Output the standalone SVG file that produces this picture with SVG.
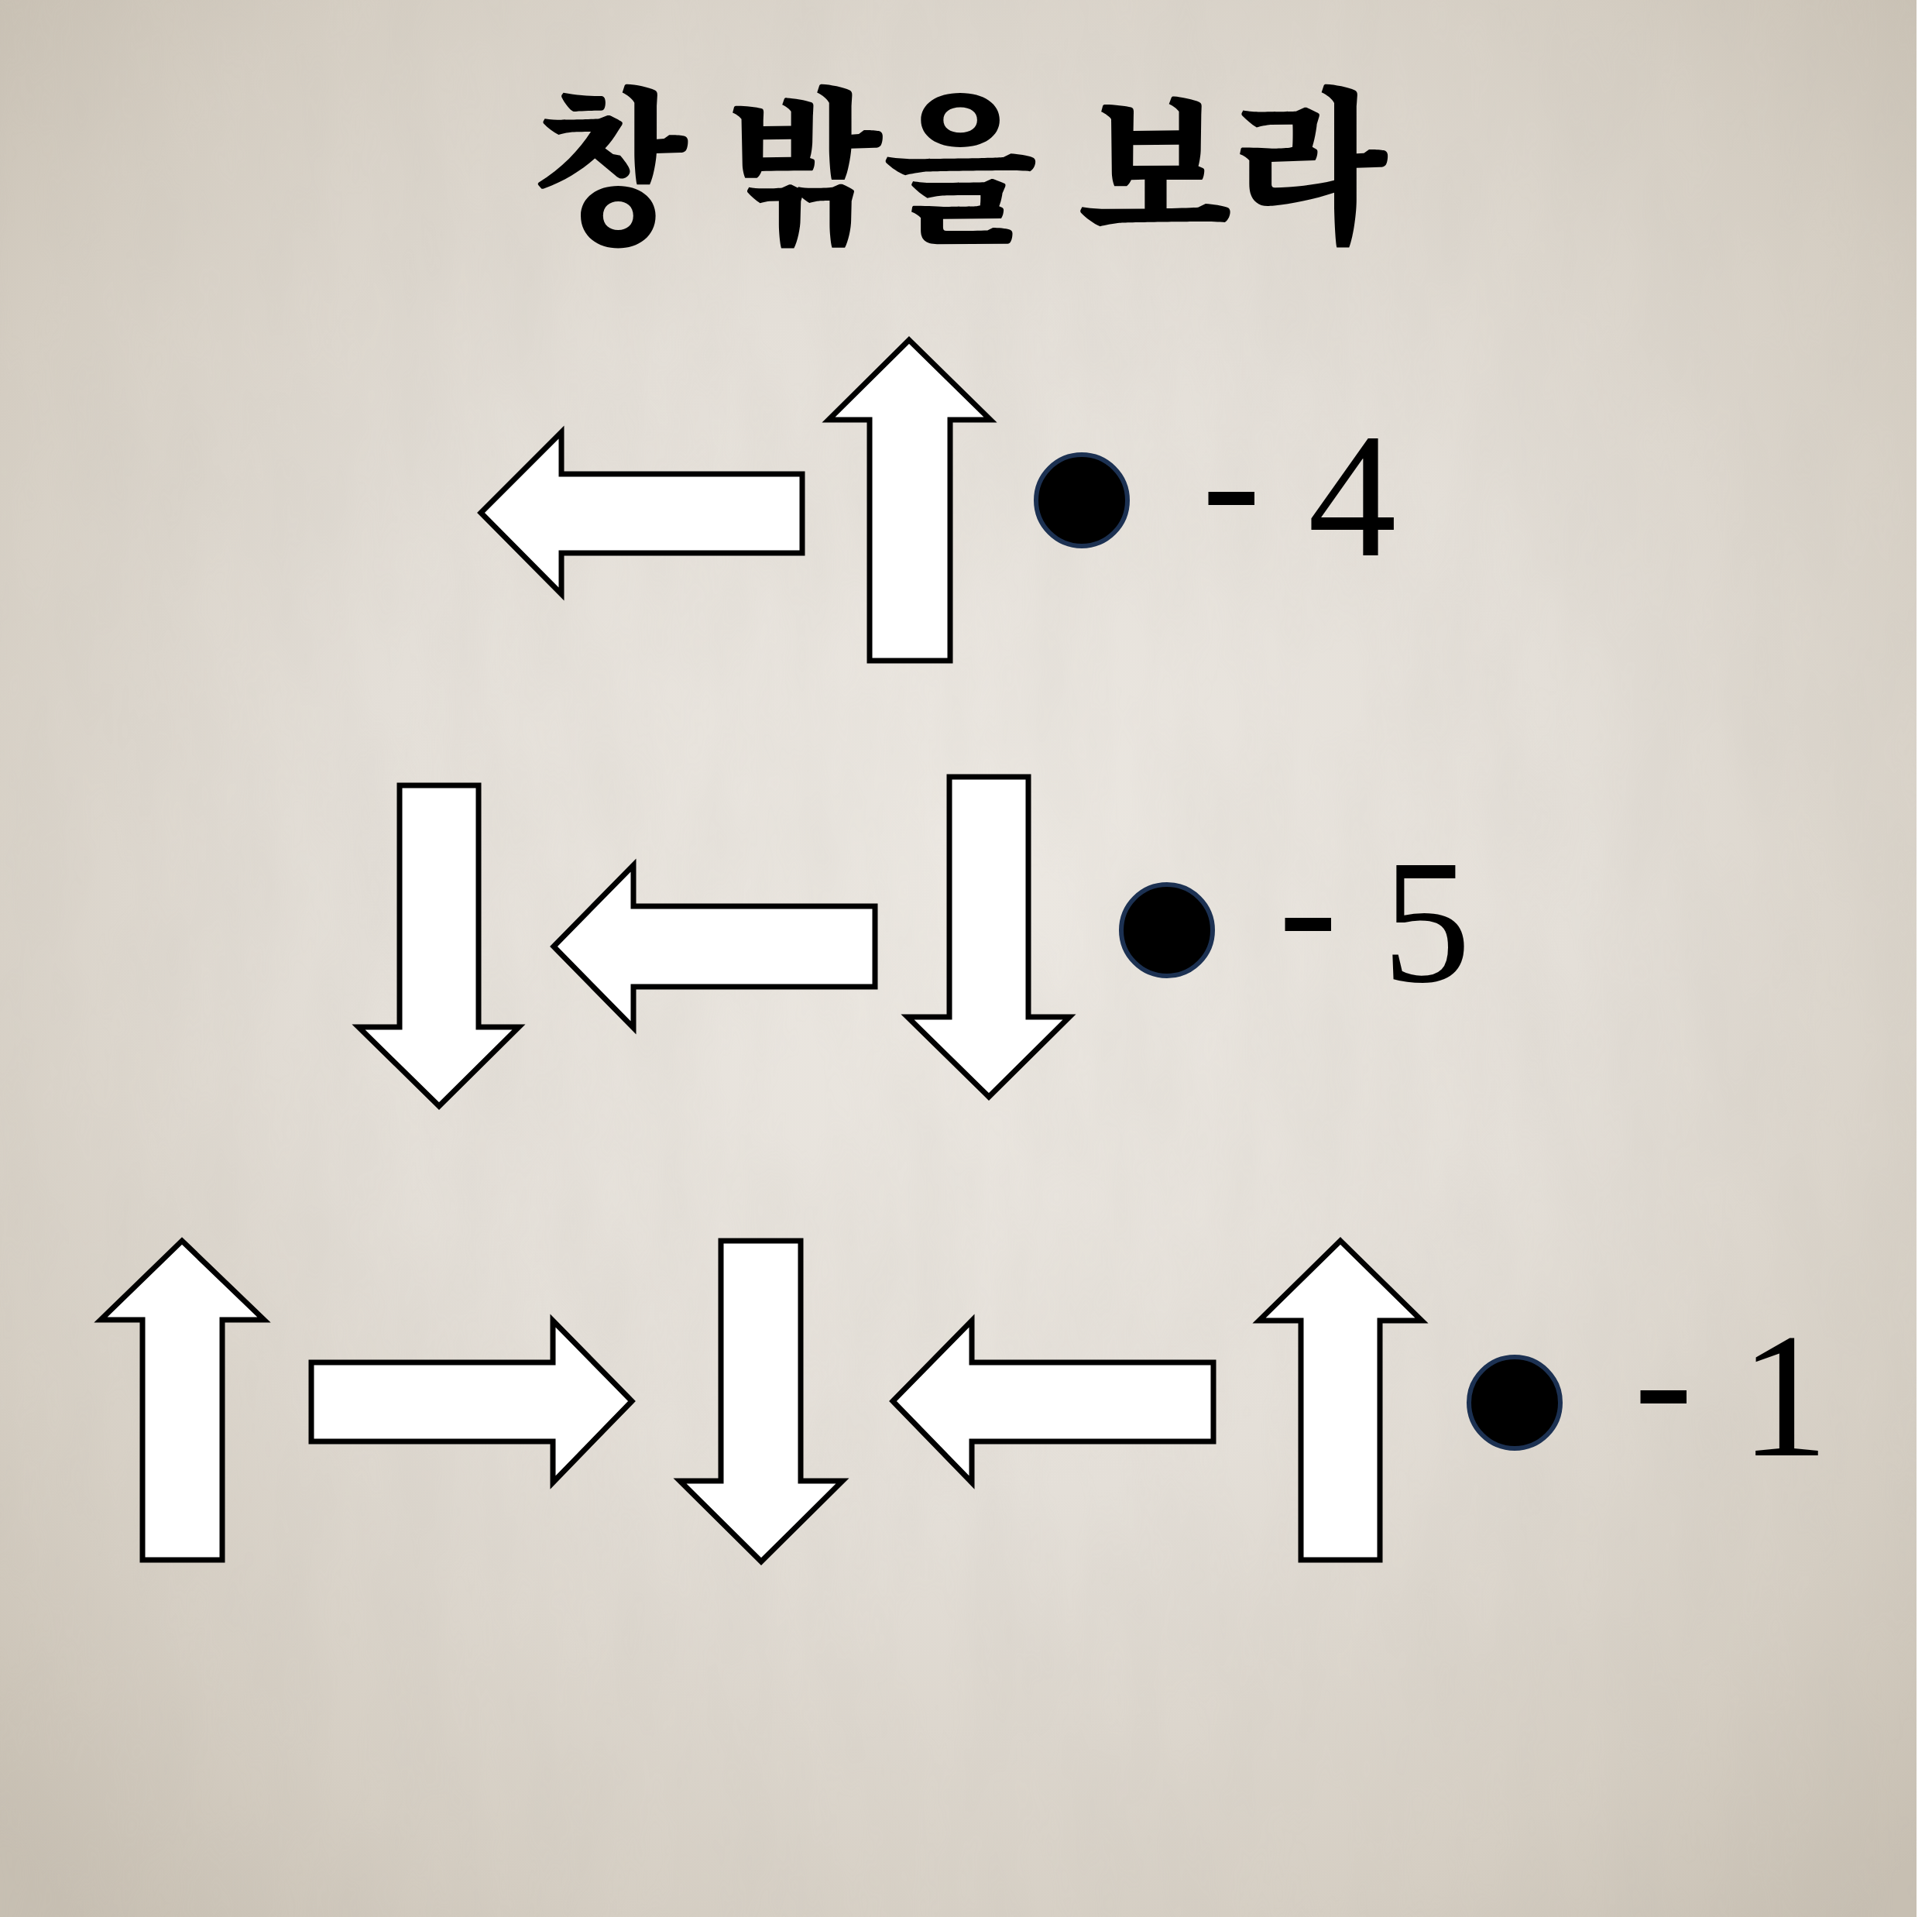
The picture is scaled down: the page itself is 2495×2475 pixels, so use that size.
<svg xmlns="http://www.w3.org/2000/svg" width="2495" height="2475" viewBox="0 0 2495 2475">
  <defs>
    <radialGradient id="bg" cx="1250" cy="1150" r="1750" gradientUnits="userSpaceOnUse">
      <stop offset="0" stop-color="#ece8e2"/>
      <stop offset="0.45" stop-color="#e4dfd8"/>
      <stop offset="0.8" stop-color="#d5cec3"/>
      <stop offset="1" stop-color="#c7bfb2"/>
    </radialGradient>
    <filter id="tex" x="0" y="0" width="100%" height="100%">
      <feTurbulence type="fractalNoise" baseFrequency="0.012 0.004" numOctaves="4" seed="11" result="n"/>
      <feColorMatrix in="n" type="matrix" values="0 0 0 0 0.5  0 0 0 0 0.47  0 0 0 0 0.42  0 0 0 0.45 -0.12"/>
    </filter>
    <style>
      .arr { fill: #ffffff; stroke: #000000; stroke-width: 7; stroke-linejoin: miter; }
      .dot { fill: #000000; stroke: #1c3152; stroke-width: 6; }
      .num { font-family: 'Liberation Serif', 'Times New Roman', serif; font-size: 229px; fill: #000000; }
      .title { font-family: 'Noto Serif CJK KR', 'Noto Sans CJK KR', serif; font-size: 216px; font-weight: 900; fill: #000000; }
    </style>
  </defs>

  <rect x="0" y="0" width="2495" height="2475" fill="url(#bg)"/>
  <rect x="0" y="0" width="2475" height="2475" filter="url(#tex)" opacity="0.35"/>
  <rect x="2475" y="0" width="20" height="2475" fill="#ffffff"/>

  <g id="title" transform="translate(1240,0) scale(0.96,1)">
    <text class="title" x="0" y="295" text-anchor="middle">창 밖을 보라</text>
  </g>

  <g id="connectors"></g>

  <!-- Row 1 -->
  <g id="r1-left-arrow">
    <polygon class="arr" points="621,662 725,558 725,612 1036,612 1036,714 725,714 725,767"/>
  </g>
  <g id="r1-up-arrow">
    <polygon class="arr" points="1174,439 1279,542 1227,542 1227,853 1123,853 1123,542 1070,542"/>
  </g>
  <g id="r1-label">
    <circle class="dot" cx="1397" cy="646" r="59"/>
    <text class="num"><tspan x="1552" y="697">-</tspan> <tspan x="1689" y="717">4</tspan></text>
  </g>

  <!-- Row 2 -->
  <g id="r2-down-arrow-left">
    <polygon class="arr" points="516,1014 618,1014 618,1326 670,1326 567,1428 463,1326 516,1326"/>
  </g>
  <g id="r2-left-arrow">
    <polygon class="arr" points="715,1222 818,1117 818,1170 1130,1170 1130,1274 818,1274 818,1327"/>
  </g>
  <g id="r2-down-arrow-right">
    <polygon class="arr" points="1226,1003 1328,1003 1328,1313 1381,1313 1277,1416 1172,1313 1226,1313"/>
  </g>
  <g id="r2-label">
    <circle class="dot" cx="1507" cy="1201" r="59"/>
    <text class="num"><tspan x="1651" y="1247">-</tspan> <tspan x="1785" y="1267">5</tspan></text>
  </g>

  <!-- Row 3 -->
  <g id="r3-up-arrow-left">
    <polygon class="arr" points="235,1602 341,1704 287,1704 287,2014 184,2014 184,1704 130,1704"/>
  </g>
  <g id="r3-right-arrow">
    <polygon class="arr" points="816,1809 714,1914 714,1861 402,1861 402,1759 714,1759 714,1705"/>
  </g>
  <g id="r3-down-arrow">
    <polygon class="arr" points="931,1602 1034,1602 1034,1912 1088,1912 983,2016 878,1912 931,1912"/>
  </g>
  <g id="r3-left-arrow">
    <polygon class="arr" points="1153,1809 1255,1705 1255,1759 1567,1759 1567,1861 1255,1861 1255,1914"/>
  </g>
  <g id="r3-up-arrow-right">
    <polygon class="arr" points="1731,1602 1836,1705 1782,1705 1782,2014 1680,2014 1680,1705 1626,1705"/>
  </g>
  <g id="r3-label">
    <circle class="dot" cx="1956" cy="1811" r="59"/>
    <text class="num"><tspan x="2110" y="1857">-</tspan> <tspan x="2247" y="1879">1</tspan></text>
  </g>
</svg>
